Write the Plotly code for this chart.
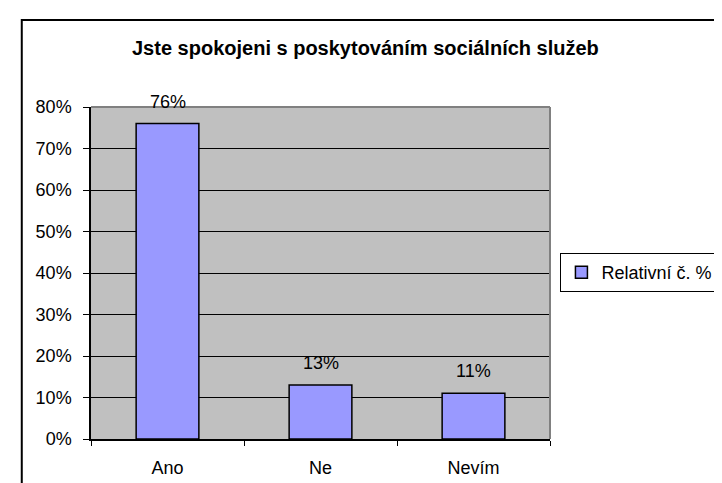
import plotly.graph_objects as go

categories = ["Ano", "Ne", "Nevím"]
values = [0.76, 0.13, 0.11]
labels = ["76%", "13%", "11%"]
series_name = "Relativní č. %"
title_text = "Jste spokojeni s poskytováním sociálních služeb"

W, H = 722, 483
L, R, T, B = 83, 567, 99, 431
pw, ph = R - L, B - T

def px(x):
    return (x - L) / pw

def py(y):
    return (B - y) / ph

FONT = "Liberation Sans, Arial, sans-serif"
FS = 18

fig = go.Figure()
fig.add_trace(go.Bar(
    x=categories, y=values, name=series_name,
    marker=dict(color="#9999FF", line=dict(color="black", width=1.5)),
    width=0.41, showlegend=True,
))

for c, v, t in zip(categories, values, labels):
    fig.add_annotation(x=c, y=v, text=t, showarrow=False, yshift=22,
                       font=dict(family=FONT, size=FS, color="black"))

fig.add_annotation(xref="paper", yref="paper", x=px(372), y=py(40),
                   text="<b>" + title_text + "</b>", showarrow=False,
                   xanchor="center", yanchor="middle",
                   font=dict(family=FONT, size=20, color="black"))

# outer chart border (extends beyond the visible window right/bottom)
fig.add_shape(type="rect", xref="paper", yref="paper",
              x0=px(10), x1=px(760), y0=py(520), y1=py(12),
              line=dict(color="black", width=2), fillcolor="rgba(0,0,0,0)")
# gray plot area border (top & right)
fig.add_shape(type="line", xref="paper", yref="paper", x0=0, x1=1, y0=1, y1=1,
              line=dict(color="#808080", width=2), layer="above")
fig.add_shape(type="line", xref="paper", yref="paper", x0=1, x1=1, y0=0, y1=1,
              line=dict(color="#808080", width=2), layer="above")

fig.update_layout(
    width=W, height=H,
    margin=dict(l=L, r=W - R, t=T, b=H - B, pad=0),
    paper_bgcolor="white", plot_bgcolor="#C0C0C0",
    font=dict(family=FONT, size=FS, color="black"),
    bargap=0.59,
    legend=dict(x=px(578), y=py(264.5), xanchor="left", yanchor="middle",
                bgcolor="white", bordercolor="black", borderwidth=1,
                font=dict(family=FONT, size=FS, color="black"),
                itemwidth=30),
)
fig.update_yaxes(range=[0, 0.8], dtick=0.1, tickformat=".0%",
                 showgrid=True, gridcolor="black", gridwidth=1,
                 showline=True, linecolor="black", linewidth=1.5,
                 ticks="outside", ticklen=6, tickcolor="black",
                 ticklabelstandoff=8, zeroline=False, fixedrange=True)
fig.update_xaxes(showgrid=False, showline=True, linecolor="black", linewidth=1.5,
                 ticks="outside", ticklen=5, tickcolor="black", tickson="boundaries",
                 ticklabelstandoff=12, fixedrange=True)

fig.write_html("out.html")
